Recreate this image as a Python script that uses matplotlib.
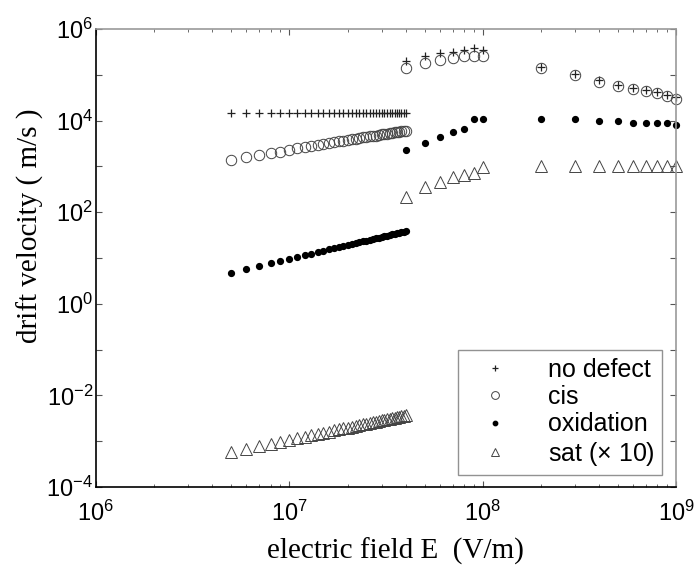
import matplotlib
matplotlib.use("Agg")
import math
import matplotlib.pyplot as plt
from matplotlib.ticker import LogLocator, FixedLocator, NullFormatter, FuncFormatter

# ---- data (E in units of 1e6 V/m) ----
E1 = [5, 6, 7, 8, 9, 10, 11, 12, 13, 14, 15, 16, 17, 18, 19, 20, 21, 22,
      23, 24, 25, 26, 27, 28, 29, 30, 31, 32, 33, 34, 35, 36, 37, 38, 39, 40]
E2 = [40, 50, 60, 70, 80, 90, 100]
E3 = [200, 300, 400, 500, 600, 700, 800, 900, 1000]

nodef1 = [1.45e4, 1.45e4, 1.45e4, 1.45e4, 1.45e4, 1.45e4, 1.45e4, 1.45e4, 1.45e4,
          1.45e4, 1.45e4, 1.45e4, 1.45e4, 1.45e4, 1.45e4, 1.45e4, 1.45e4, 1.45e4,
          1.45e4, 1.45e4, 1.45e4, 1.45e4, 1.45e4, 1.45e4, 1.45e4, 1.45e4, 1.45e4,
          1.45e4, 1.45e4, 1.45e4, 1.45e4, 1.45e4, 1.45e4, 1.45e4, 1.45e4, 1.45e4]
nodef2 = [2.0e5, 2.6e5, 3.0e5, 3.2e5, 3.5e5, 3.8e5, 3.4e5]
nodef3 = [1.5e5, 1.05e5, 7.5e4, 6.0e4, 5.2e4, 4.7e4, 4.2e4, 3.7e4, 3.3e4]

cis1 = [1.4e3, 1.6e3, 1.8e3, 2.0e3, 2.1e3, 2.3e3, 2.5e3, 2.6e3, 2.8e3, 2.9e3,
        3.1e3, 3.2e3, 3.4e3, 3.5e3, 3.6e3, 3.8e3, 3.9e3, 4.0e3, 4.1e3, 4.3e3,
        4.4e3, 4.5e3, 4.6e3, 4.7e3, 4.9e3, 5.0e3, 5.1e3, 5.2e3, 5.3e3, 5.4e3,
        5.5e3, 5.6e3, 5.7e3, 5.8e3, 5.9e3, 6.0e3]
cis2 = [1.4e5, 1.8e5, 2.1e5, 2.3e5, 2.5e5, 2.6e5, 2.6e5]
cis3 = [1.4e5, 1.0e5, 6.9e4, 5.7e4, 4.9e4, 4.5e4, 4.0e4, 3.5e4, 3.0e4]

oxi1 = [4.8, 5.8, 6.7, 7.7, 8.6, 9.6, 10.6, 11.5, 12.5, 13.4, 14.4, 15.4,
        16.3, 17.3, 18.2, 19.2, 20.2, 21.1, 22.1, 23.0, 24.0, 25.0, 25.9, 26.9,
        27.8, 28.8, 29.8, 30.7, 31.7, 32.6, 33.6, 34.6, 35.5, 36.5, 37.4, 38.4]
oxi2 = [2.3e3, 3.2e3, 4.4e3, 5.6e3, 6.6e3, 1.07e4, 1.07e4]
oxi3 = [1.07e4, 1.07e4, 9.8e3, 9.8e3, 8.9e3, 8.9e3, 8.9e3, 8.9e3, 8.0e3]

sat1 = [5.8e-4, 6.8e-4, 7.8e-4, 8.8e-4, 9.8e-4, 1.07e-3, 1.17e-3, 1.26e-3,
        1.36e-3, 1.45e-3, 1.54e-3, 1.63e-3, 1.72e-3, 1.81e-3, 1.90e-3, 1.99e-3,
        2.08e-3, 2.17e-3, 2.25e-3, 2.34e-3, 2.43e-3, 2.51e-3, 2.60e-3, 2.68e-3,
        2.77e-3, 2.85e-3, 2.93e-3, 3.02e-3, 3.10e-3, 3.18e-3, 3.27e-3, 3.35e-3,
        3.43e-3, 3.51e-3, 3.60e-3, 3.69e-3]
sat2 = [215, 355, 460, 590, 650, 720, 980]
sat3 = [1e3, 1e3, 1e3, 1e3, 1e3, 1e3, 1e3, 1e3, 1e3]

labels = ["no defect", "cis", "oxidation", "sat ($\\times$ 10)"]

# ---- plotting ----
plt.rcParams['font.family'] = ['Liberation Sans', 'DejaVu Sans']
plt.rcParams['mathtext.fontset'] = 'custom'
plt.rcParams['mathtext.rm'] = 'Liberation Sans'
plt.rcParams['mathtext.it'] = 'Liberation Sans'

fig = plt.figure(figsize=(7.0, 5.67), dpi=100)
ax = fig.add_axes([0.137, 0.141, 0.829, 0.808])

E = [e * 1e6 for e in (E1 + E2 + E3)]

ax.plot(E, nodef1 + nodef2 + nodef3, linestyle='none', marker='+',
        markersize=5.5, markeredgewidth=0.9, color='#222222', label=labels[0],
        clip_on=False)
ax.plot(E, cis1 + cis2 + cis3, linestyle='none', marker='o', markersize=7.5,
        markerfacecolor='none', markeredgecolor='#444444', markeredgewidth=0.7,
        label=labels[1], clip_on=False)
ax.plot(E, oxi1 + oxi2 + oxi3, linestyle='none', marker='o', markersize=4.2,
        color='black', label=labels[2], clip_on=False)
ax.plot(E, sat1 + sat2 + sat3, linestyle='none', marker='^', markersize=8,
        markerfacecolor='none', markeredgecolor='#444444', markeredgewidth=0.7,
        label=labels[3], clip_on=False)

ax.set_xscale('log')
ax.set_yscale('log')
ax.set_xlim(1e6, 1e9)
ax.set_ylim(1e-4, 1e6)

ax.xaxis.set_major_locator(LogLocator(base=10, numticks=10))
ax.xaxis.set_minor_locator(LogLocator(base=10, subs=range(2, 10), numticks=100))
ax.xaxis.set_minor_formatter(NullFormatter())

ax.yaxis.set_major_locator(FixedLocator([10.0 ** k for k in range(-4, 7)]))
ax.yaxis.set_minor_locator(FixedLocator([]))


def yfmt(v, pos):
    k = int(round(math.log10(v)))
    if k % 2 == 0:
        return "$10^{%d}$" % k
    return ""


def xfmt(v, pos):
    k = int(round(math.log10(v)))
    return "$10^{%d}$" % k


ax.yaxis.set_major_formatter(FuncFormatter(yfmt))
ax.xaxis.set_major_formatter(FuncFormatter(xfmt))

ax.tick_params(axis='both', which='both', direction='in', top=True, right=True,
               labelsize=17, color='#555555')
ax.tick_params(axis='both', which='major', length=4, width=0.8)
ax.tick_params(axis='y', which='major', pad=2)
ax.tick_params(axis='x', which='major', pad=10)
ax.tick_params(axis='both', which='minor', length=2.5, width=0.6)

for side in ('top', 'right'):
    ax.spines[side].set_color('#999999')
    ax.spines[side].set_linewidth(1.2)
for side in ('left', 'bottom'):
    ax.spines[side].set_color('black')
    ax.spines[side].set_linewidth(1.2)

ax.set_xlabel("electric field E  (V/m)", family=['Liberation Serif', 'DejaVu Serif'],
              fontsize=21)
ax.set_ylabel("drift velocity ( m/s )", family=['Liberation Serif', 'DejaVu Serif'],
              fontsize=21)
ax.xaxis.set_label_coords(0.516, -0.11)
ax.yaxis.set_label_coords(-0.09, 0.57)

leg = ax.legend(loc='lower right', bbox_to_anchor=(0.976, 0.026), fontsize=18,
                frameon=True, fancybox=False, markerscale=0.75, handlelength=2.4,
                handletextpad=0.9, borderpad=0.3, labelspacing=0.13,
                borderaxespad=0.0)
leg.get_frame().set_edgecolor('#777777')
leg.get_frame().set_linewidth(1.0)

fig.savefig("out.png", dpi=100)
